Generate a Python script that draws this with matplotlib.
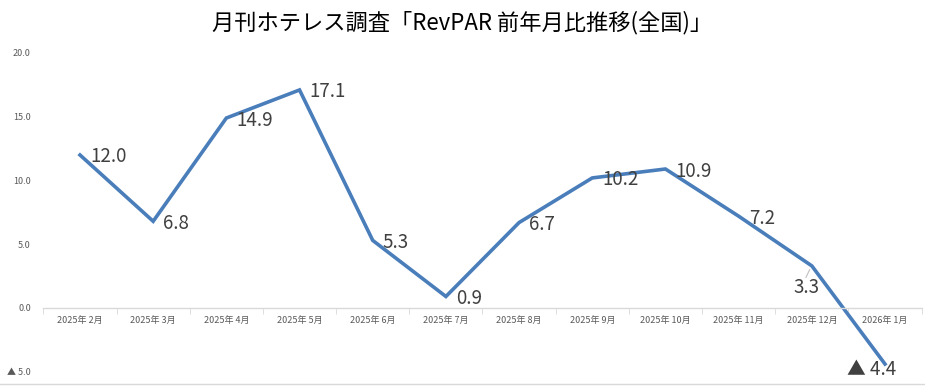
import matplotlib
matplotlib.use("Agg")
import matplotlib.pyplot as plt
from matplotlib.lines import Line2D

plt.rcParams['font.family'] = ['Noto Sans CJK JP', 'DejaVu Sans']

months = ['2025年 2月', '2025年 3月', '2025年 4月', '2025年 5月', '2025年 6月',
          '2025年 7月', '2025年 8月', '2025年 9月', '2025年 10月', '2025年 11月',
          '2025年 12月', '2026年 1月']
revpar = [12.0, 6.8, 14.9, 17.1, 5.3, 0.9, 6.7, 10.2, 10.9, 7.2, 3.3, -4.4]
yticks = [-5, 0, 5, 10, 15, 20]
ytick_labels = ['▲ 5.0', '0.0', '5.0', '10.0', '15.0', '20.0']
title = '月刊ホテレス調査「RevPAR 前年月比推移(全国)」'

W, H = 925, 386
fig = plt.figure(figsize=(W / 100, H / 100), dpi=100)
ax = fig.add_axes([43.4 / W, 1 - 371.7 / H, (921.6 - 43.4) / W, (371.7 - 53) / H])

x = list(range(len(revpar)))
ax.plot(x, revpar, color='#4a7ebb', lw=2.6, solid_joinstyle='miter', clip_on=False)

ax.set_xlim(-0.5, len(revpar) - 0.5)
ax.set_ylim(-5, 20)

# category axis sits on zero
for s in ['top', 'right', 'left']:
    ax.spines[s].set_visible(False)
ax.spines['bottom'].set_position(('data', 0))
ax.spines['bottom'].set_color('#d9d9d9')
ax.spines['bottom'].set_linewidth(1.0)

ax.set_xticks(x)
ax.set_xticklabels(months, fontsize=6.5, color='#595959')
ax.tick_params(axis='x', which='major', length=0, pad=6)
ax.set_xticks([i - 0.5 for i in range(len(revpar) + 1)], minor=True)
ax.tick_params(axis='x', which='minor', length=4, color='#d9d9d9', direction='out')

ax.set_yticks(yticks)
ax.set_yticklabels(ytick_labels, fontsize=6.5, color='#595959')
ax.tick_params(axis='y', length=0, pad=9)

# data labels
for i, v in enumerate(revpar):
    if v == 3.3:
        ax.annotate('3.3', (i, v), xytext=(-5, -22), textcoords='offset pixels',
                    fontsize=13.5, color='#404040', ha='center', va='center')
        ax.add_line(Line2D([i - 0.03, i - 0.08], [v - 0.3, v - 0.9], color='#bfbfbf', lw=0.8))
    elif v < 0:
        ax.annotate('▲ ' + format(-v, '.1f'), (i, v), xytext=(-13, -5), textcoords='offset pixels',
                    fontsize=13.5, color='#404040', ha='center', va='center', annotation_clip=False)
    else:
        ax.annotate(format(v, '.1f'), (i, v), xytext=(10, -2), textcoords='offset pixels',
                    fontsize=13.5, color='#404040', ha='left', va='center')

fig.text(0.5, 1 - 23 / H, title, ha='center', va='center', fontsize=16, color='#000000')
fig.add_artist(Line2D([0, 1], [1 - 384 / H, 1 - 384 / H], color='#d9d9d9', lw=1, transform=fig.transFigure))

fig.savefig('out.png', dpi=100)
